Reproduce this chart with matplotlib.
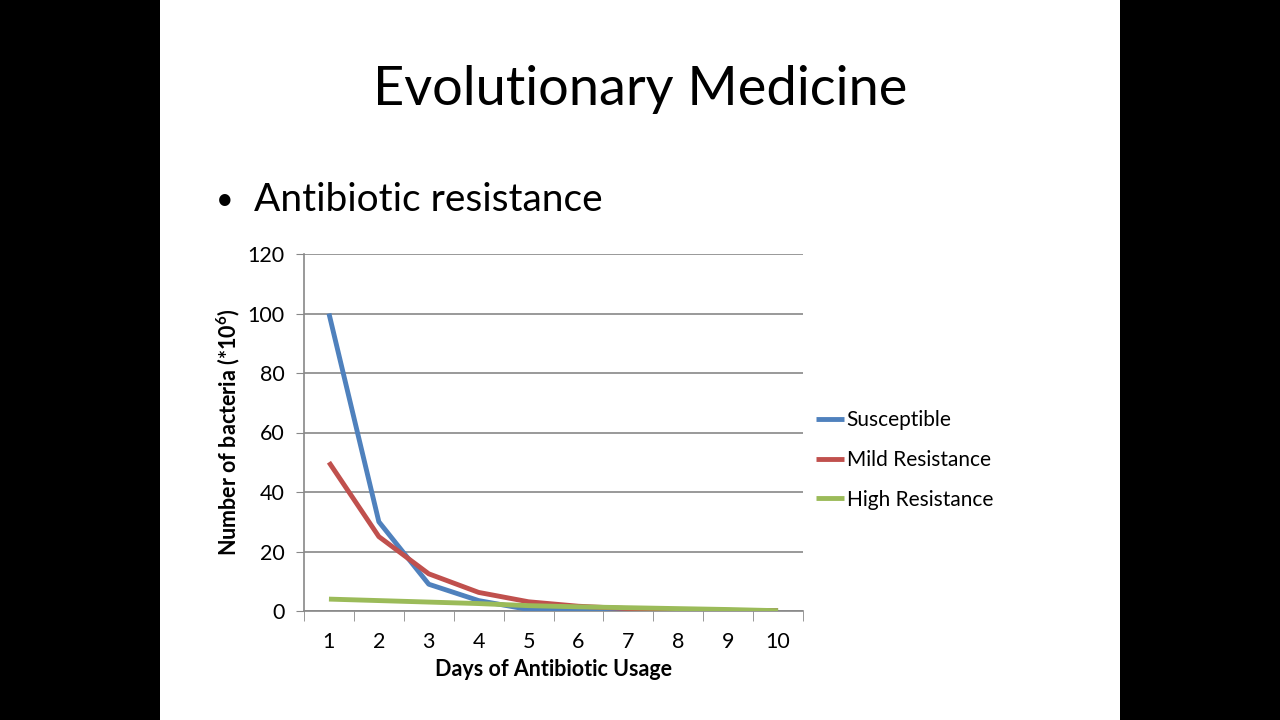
import matplotlib
matplotlib.use("Agg")
import matplotlib.pyplot as plt
from matplotlib.patches import Rectangle

plt.rcParams['font.family'] = ['Lato', 'DejaVu Sans']
plt.rcParams['mathtext.fontset'] = 'custom'
plt.rcParams['mathtext.rm'] = 'Lato'
plt.rcParams['mathtext.bf'] = 'Lato:bold'

days = [1, 2, 3, 4, 5, 6, 7, 8, 9, 10]
susceptible = [100, 30, 9, 3.5, 0.5, 0.3, 0.2, 0.1, 0.1, 0.05]
mild = [50, 25, 12.5, 6.25, 3.1, 1.6, 0.8, 0.4, 0.2, 0.1]
high = [4, 3.5, 3, 2.5, 1.8, 1.4, 1.1, 0.8, 0.5, 0.1]
yticks = [0, 20, 40, 60, 80, 100, 120]

title = "Evolutionary Medicine"
bullet = "Antibiotic resistance"

fig = plt.figure(figsize=(12.8, 7.2), dpi=100)
fig.patch.set_facecolor('black')
fig.add_artist(Rectangle((160/1280, 0), 960/1280, 1, transform=fig.transFigure,
                         facecolor='white', edgecolor='none', zorder=0))

fig.text(640/1280, 1 - 90/720, title, ha='center', va='center', fontsize=39, color='black')
fig.text(225/1280, 1 - 200/720, "•", ha='center', va='center', fontsize=22, color='black')
fig.text(254/1280, 1 - 200/720, bullet, ha='left', va='center', fontsize=28, color='black')

ax = fig.add_axes([304/1280, 1 - 611/720, (803 - 304)/1280, (611 - 254)/720])
ax.set_facecolor('white')
ax.plot(days, susceptible, color='#4F81BD', lw=3.5, label='Susceptible', zorder=3, solid_capstyle='butt')
ax.plot(days, mild, color='#C0504D', lw=3.5, label='Mild Resistance', zorder=3, solid_capstyle='butt')
ax.plot(days, high, color='#9BBB59', lw=3.5, label='High Resistance', zorder=4, solid_capstyle='butt')

ax.set_xlim(0.5, 10.5)
ax.set_ylim(0, 120)
ax.set_yticks(yticks)
ax.set_xticks(days)
ax.set_xticks([d + 0.5 for d in [0] + days], minor=True)
ax.tick_params(axis='x', which='major', length=0, labelsize=15.5, pad=15)
ax.tick_params(axis='x', which='minor', length=7, color='#888888', direction='out')
ax.tick_params(axis='y', which='major', length=6, color='#888888', labelsize=15.5, pad=8)
ax.grid(axis='y', color='#888888', lw=1.2, zorder=1)
for s in ['top', 'right']:
    ax.spines[s].set_visible(False)
for s in ['left', 'bottom']:
    ax.spines[s].set_color('#888888')
    ax.spines[s].set_linewidth(1.2)

ax.set_xlabel("Days of Antibiotic Usage", fontsize=15.5, fontweight='bold', labelpad=5)
ax.set_ylabel(r"Number of bacteria (*10$^{\mathbf{6}}$)", fontsize=15.5, fontweight='bold', labelpad=4)

leg = ax.legend(loc='center left', bbox_to_anchor=(808/1280, 1 - 460/720),
                bbox_transform=fig.transFigure, frameon=False, fontsize=15,
                handlelength=1.35, handletextpad=0.1, labelspacing=0.95, borderaxespad=0)

fig.savefig("out.png", dpi=100, facecolor=fig.get_facecolor())
